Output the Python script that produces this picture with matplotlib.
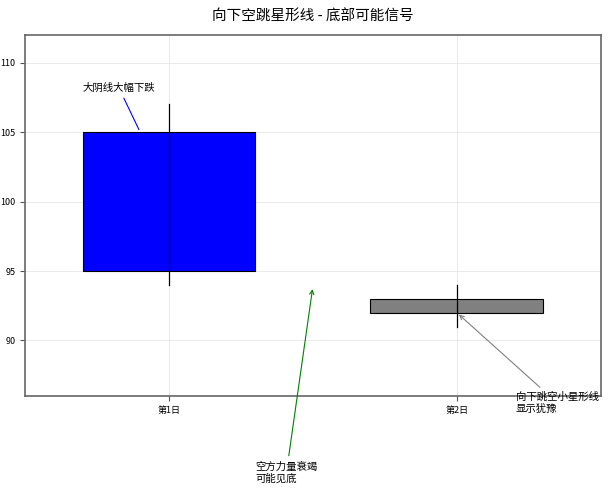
import matplotlib
matplotlib.use("Agg")
import matplotlib.pyplot as plt

plt.rcParams['font.family'] = ['Noto Sans CJK SC', 'DejaVu Sans']

days = ["第1日", "第2日"]
opens = [105, 93]
closes = [95, 92]
highs = [107, 94]
lows = [94, 91]
colors = ["#0000ff", "#808080"]

fig = plt.figure(figsize=(6.08, 4.88), dpi=100)
ax = fig.add_axes([0.0411, 0.1885, 0.947, 0.7398])

for i in range(len(days)):
    bottom = min(opens[i], closes[i])
    height = abs(opens[i] - closes[i])
    ax.bar(i, height, bottom=bottom, width=0.6, color=colors[i],
           edgecolor="black", linewidth=0.8, zorder=2)
    ax.plot([i, i], [lows[i], highs[i]], color="black", linewidth=0.9, zorder=3)

ax.set_xlim(-0.5, 1.5)
ax.set_ylim(86, 112)
ax.set_xticks(range(len(days)))
ax.set_xticklabels(days)
ax.set_yticks([90, 95, 100, 105, 110])
ax.tick_params(labelsize=6.5, color="#555555")
ax.grid(True, color="#e6e6e6", linewidth=0.6, zorder=0)
for s in ax.spines.values():
    s.set_color("#666666")
    s.set_linewidth(1.2)

ax.set_title("向下空跳星形线 - 底部可能信号", fontsize=10.5, pad=10)

ax.annotate("大阴线大幅下跌", xy=(-0.1, 105), xytext=(-0.3, 108.2),
            fontsize=7.5, va="center",
            arrowprops=dict(arrowstyle="-", color="blue", linewidth=0.8))
ax.annotate("空方力量衰竭\n可能见底", xy=(0.5, 93.9), xytext=(0.3, 80.5),
            fontsize=7.5, va="center", annotation_clip=False,
            arrowprops=dict(arrowstyle="->", color="green", linewidth=0.8))
ax.annotate("向下跳空小星形线\n显示犹豫", xy=(1.0, 92), xytext=(1.205, 85.5),
            fontsize=7.5, va="center", annotation_clip=False,
            arrowprops=dict(arrowstyle="->", color="gray", linewidth=0.8))

fig.savefig("out.png", dpi=100)
